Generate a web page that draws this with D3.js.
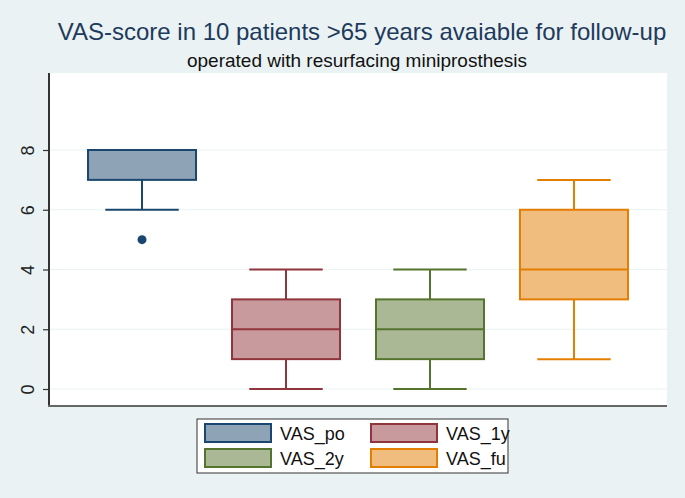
<!DOCTYPE html>
<html>
<head>
<meta charset="utf-8">
<script src="https://cdn.jsdelivr.net/npm/d3@7"></script>
<style>
  body { margin: 0; background: #eaf2f3; }
  svg { display: block; font-family: "Liberation Sans", Arial, sans-serif; }
</style>
</head>
<body>
<svg id="chart" width="685" height="498"></svg>
<script>
const groups = ['VAS_po', 'VAS_1y', 'VAS_2y', 'VAS_fu'];
const lowWhisker = [6, 0, 0, 1];
const q1 = [7, 1, 1, 3];
const median = [8, 2, 2, 4];
const q3 = [8, 3, 3, 6];
const highWhisker = [8, 4, 4, 7];
const outliers = [[5], [], [], []];
const yTicks = [0, 2, 4, 6, 8];
const lineColors = ['#1a476f', '#90353b', '#55752f', '#e37e00'];
const fillColors = ['#8fa3b7', '#c89a9d', '#aab896', '#f0bd7f'];

const svg = d3.select('#chart');
const W = 685, H = 498;
const plot = { left: 49, right: 667, top: 73, bottom: 406 };

svg.append('rect').attr('width', W).attr('height', H).attr('fill', '#eaf2f3');
svg.append('rect')
    .attr('x', plot.left).attr('y', plot.top)
    .attr('width', plot.right - plot.left).attr('height', plot.bottom - plot.top)
    .attr('fill', '#ffffff');

let x = d3.scalePoint()
    .domain(groups)
    .range([plot.left, plot.right])
    .padding(0.646);
let y = d3.scaleLinear()
    .domain([0, 8])
    .range([389, 150]);

// grid lines
svg.append('g').selectAll('line')
    .data(yTicks)
    .join('line')
    .attr('x1', plot.left).attr('x2', plot.right)
    .attr('y1', d => y(d)).attr('y2', d => y(d))
    .attr('stroke', '#eaf2f3').attr('stroke-width', 1.2);

// y axis, labels turned like Stata does
let yAxis = d3.axisLeft(y).tickValues(yTicks).tickSize(6);
let gy = svg.append('g')
    .attr('class', 'y-axis')
    .attr('transform', `translate(${plot.left}, 0)`)
    .call(yAxis)
    .attr('font-size', 18)
    .attr('font-family', '"Liberation Sans", Arial, sans-serif');
gy.select('.domain').remove();
gy.selectAll('.tick line').attr('stroke', '#333').attr('stroke-width', 1.2);
gy.selectAll('.tick text')
    .attr('font-size', 18)
    .attr('fill', '#222')
    .attr('x', 0).attr('y', 0).attr('dy', '0.35em')
    .attr('text-anchor', 'middle')
    .attr('transform', 'translate(-21, 0) rotate(-90)');

svg.append('line')
    .attr('x1', plot.left).attr('x2', plot.left)
    .attr('y1', plot.top).attr('y2', plot.bottom)
    .attr('stroke', '#333').attr('stroke-width', 2);
svg.append('line')
    .attr('x1', plot.left - 1).attr('x2', plot.right)
    .attr('y1', plot.bottom).attr('y2', plot.bottom)
    .attr('stroke', '#666').attr('stroke-width', 2);

// boxes
const boxW = x.step() * 0.75;
const capW = x.step() * 0.51;
groups.forEach((g, i) => {
    let cx = x(g);
    let gb = svg.append('g');
    gb.append('line')
        .attr('x1', cx).attr('x2', cx)
        .attr('y1', y(highWhisker[i])).attr('y2', y(q3[i]))
        .attr('stroke', lineColors[i]).attr('stroke-width', 2);
    gb.append('line')
        .attr('x1', cx).attr('x2', cx)
        .attr('y1', y(q1[i])).attr('y2', y(lowWhisker[i]))
        .attr('stroke', lineColors[i]).attr('stroke-width', 2);
    [lowWhisker[i], highWhisker[i]].forEach(v => {
        gb.append('line')
            .attr('x1', cx - capW / 2).attr('x2', cx + capW / 2)
            .attr('y1', y(v)).attr('y2', y(v))
            .attr('stroke', lineColors[i]).attr('stroke-width', 2);
    });
    gb.append('rect')
        .attr('x', cx - boxW / 2).attr('width', boxW)
        .attr('y', y(q3[i])).attr('height', y(q1[i]) - y(q3[i]))
        .attr('fill', fillColors[i])
        .attr('stroke', lineColors[i]).attr('stroke-width', 2);
    gb.append('line')
        .attr('x1', cx - boxW / 2).attr('x2', cx + boxW / 2)
        .attr('y1', y(median[i])).attr('y2', y(median[i]))
        .attr('stroke', lineColors[i]).attr('stroke-width', 2);
    gb.selectAll('circle')
        .data(outliers[i])
        .join('circle')
        .attr('cx', cx).attr('cy', d => y(d)).attr('r', 4.5)
        .attr('fill', lineColors[i]);
});

// titles
const midX = (plot.left + plot.right) / 2;
svg.append('text')
    .attr('x', midX + 4).attr('y', 40)
    .attr('text-anchor', 'middle')
    .attr('font-size', 24).attr('fill', '#1e3a5c')
    .text('VAS-score in 10 patients >65 years avaiable for follow-up');
svg.append('text')
    .attr('x', midX - 1).attr('y', 67)
    .attr('text-anchor', 'middle')
    .attr('font-size', 19).attr('fill', '#111')
    .text('operated with resurfacing miniprosthesis');

// legend
let lg = svg.append('g');
lg.append('rect')
    .attr('x', 197).attr('y', 419).attr('width', 311).attr('height', 54)
    .attr('fill', '#ffffff').attr('stroke', '#333').attr('stroke-width', 1);
groups.forEach((g, i) => {
    let col = i % 2, row = Math.floor(i / 2);
    let sx = 205 + col * 166, sy = 424 + row * 25;
    lg.append('rect')
        .attr('x', sx).attr('y', sy).attr('width', 66).attr('height', 18)
        .attr('fill', fillColors[i])
        .attr('stroke', lineColors[i]).attr('stroke-width', 2);
    lg.append('text')
        .attr('x', sx + 75).attr('y', sy + 16)
        .attr('font-size', 18).attr('fill', '#111')
        .text(g);
});
</script>
</body>
</html>
